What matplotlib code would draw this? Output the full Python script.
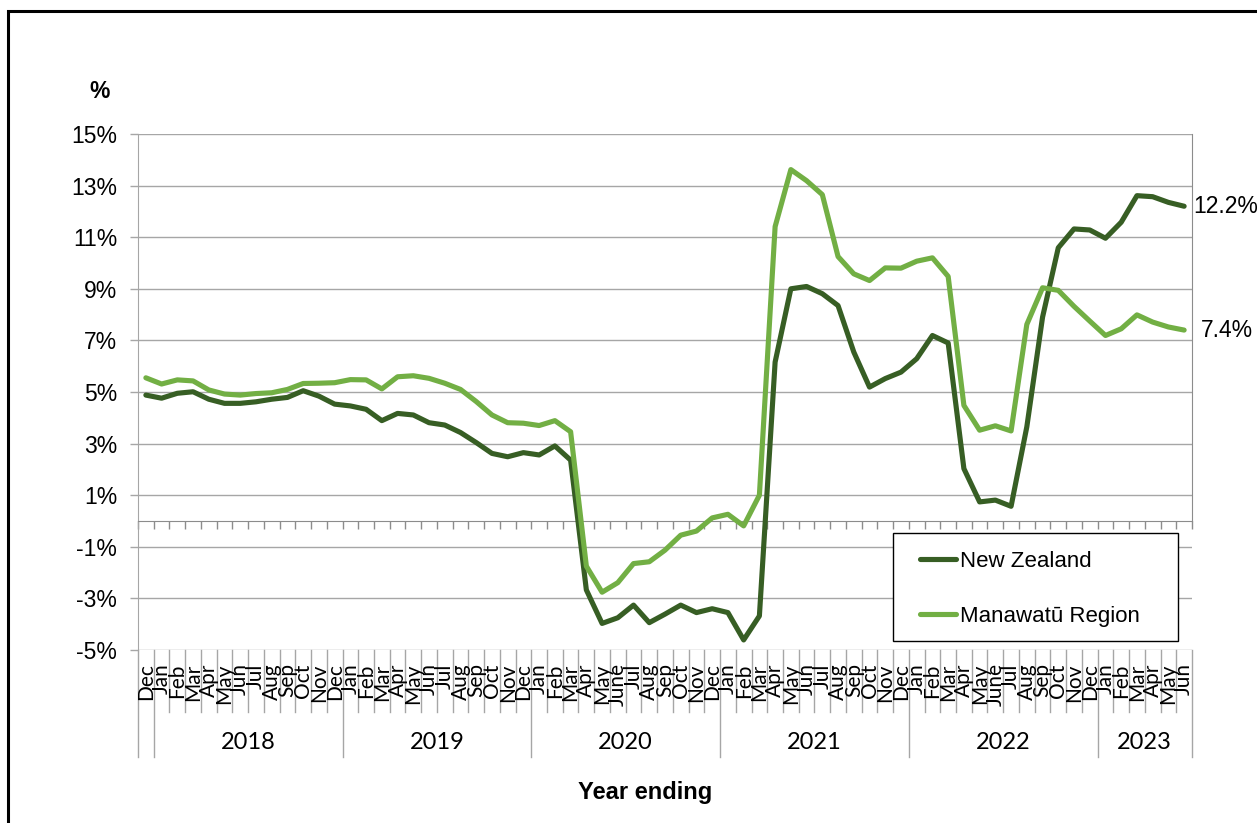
import matplotlib
matplotlib.use('Agg')
import matplotlib.pyplot as plt
import matplotlib.transforms as mtransforms
from matplotlib.patches import Rectangle
from matplotlib.lines import Line2D

plt.rcParams['font.family'] = ['Liberation Sans', 'DejaVu Sans']
plt.rcParams['axes.unicode_minus'] = False

# annual % change, year ending Dec 2017 .. Jun 2023
nz = [4.88, 4.76, 4.95, 5.01, 4.72, 4.56, 4.56, 4.62, 4.72, 4.79, 5.05, 4.84,
      4.53, 4.46, 4.33, 3.89, 4.17, 4.11, 3.81, 3.72, 3.43, 3.04, 2.62, 2.49,
      2.65, 2.56, 2.91, 2.36, -2.67, -3.97, -3.75, -3.26, -3.94, -3.61, -3.26, -3.55,
      -3.40, -3.55, -4.61, -3.68, 6.16, 9.00, 9.09, 8.81, 8.35, 6.55, 5.19, 5.52,
      5.77, 6.29, 7.19, 6.90, 2.03, 0.74, 0.81, 0.57, 3.65, 7.90, 10.59, 11.32,
      11.28, 10.96, 11.58, 12.61, 12.57, 12.35, 12.2]
manawatu = [5.55, 5.31, 5.47, 5.43, 5.08, 4.92, 4.88, 4.94, 4.97, 5.10, 5.33, 5.34,
            5.36, 5.48, 5.47, 5.12, 5.59, 5.63, 5.53, 5.34, 5.10, 4.63, 4.11, 3.81,
            3.79, 3.70, 3.89, 3.46, -1.75, -2.76, -2.39, -1.65, -1.58, -1.13, -0.55, -0.39,
            0.12, 0.26, -0.19, 1.00, 11.41, 13.62, 13.19, 12.65, 10.25, 9.58, 9.32, 9.81,
            9.80, 10.07, 10.20, 9.48, 4.48, 3.52, 3.69, 3.49, 7.62, 9.04, 8.94, 8.32,
            7.75, 7.19, 7.45, 7.99, 7.71, 7.52, 7.4]

months_2017 = ['Dec']
months_2018 = ['Jan', 'Feb', 'Mar', 'Apr', 'May', 'Jun', 'Jul', 'Aug', 'Sep', 'Oct', 'Nov', 'Dec']
months_2019 = ['Jan', 'Feb', 'Mar', 'Apr', 'May', 'Jun', 'Jul', 'Aug', 'Sep', 'Oct', 'Nov', 'Dec']
months_2020 = ['Jan', 'Feb', 'Mar', 'Apr', 'May', 'June', 'Jul', 'Aug', 'Sep', 'Oct', 'Nov', 'Dec']
months_2021 = ['Jan', 'Feb', 'Mar', 'Apr', 'May', 'Jun', 'Jul', 'Aug', 'Sep', 'Oct', 'Nov', 'Dec']
months_2022 = ['Jan', 'Feb', 'Mar', 'Apr', 'May', 'June', 'Jul', 'Aug', 'Sep', 'Oct', 'Nov', 'Dec']
months_2023 = ['Jan', 'Feb', 'Mar', 'Apr', 'May', 'Jun']
year_groups = [('', months_2017), ('2018', months_2018), ('2019', months_2019),
               ('2020', months_2020), ('2021', months_2021), ('2022', months_2022),
               ('2023', months_2023)]

month_labels = [m for _, ms in year_groups for m in ms]
x = list(range(len(month_labels)))

DARK = '#375E24'
LIGHT = '#72AF44'
GRID = '#A6A6A6'

W, H = 1257, 823
fig = plt.figure(figsize=(W / 100, H / 100), dpi=100)
ax = fig.add_axes([138 / W, (H - 650) / H, (1192 - 138) / W, 516 / H])

ax.plot(x, nz, color=DARK, lw=3.7, solid_joinstyle='round', solid_capstyle='round', zorder=3)
ax.plot(x, manawatu, color=LIGHT, lw=3.7, solid_joinstyle='round', solid_capstyle='round', zorder=3)

ax.set_xlim(-0.5, len(x) - 0.5)
ax.set_ylim(-5, 15)
yt = list(range(-5, 16, 2))
ax.set_yticks(yt)
ax.set_yticklabels([f'{v}%' for v in yt], fontsize=16.5)
ax.yaxis.grid(True, color=GRID, lw=1.0)
ax.set_axisbelow(True)
ax.tick_params(axis='y', length=5.5, width=1, color=GRID, pad=9.5)

# category axis sits at zero with ticks between months
ax.spines['bottom'].set_position(('data', 0))
ax.spines['bottom'].set_color('#8C8C8C')
ax.set_xticks([i - 0.5 for i in range(len(x) + 1)])
ax.tick_params(axis='x', direction='out', length=6, width=1, color='#8C8C8C', labelbottom=False)
ax.spines['top'].set_visible(False)
ax.spines['left'].set_color(GRID)
ax.spines['right'].set_color('#8C8C8C')
ax.spines['right'].set_bounds(0, 15)

# month / year labels below the plot
trans = mtransforms.blended_transform_factory(ax.transData, ax.transAxes)
for i, lab in enumerate(month_labels):
    ax.text(i, -0.026, lab, transform=trans, rotation=90, ha='center', va='top',
            fontsize=15, family='Lato')

start = 0
for year, ms in year_groups:
    end = start + len(ms)
    ax.plot([start - 0.5, start - 0.5], [0, -0.207], transform=trans, color=GRID,
            lw=1, clip_on=False)
    for b in range(start + 1, end):
        ax.plot([b - 0.5, b - 0.5], [0, -0.12], transform=trans, color=GRID,
                lw=1, clip_on=False)
    if year:
        ax.text((start + end - 1) / 2, -0.18, year, transform=trans, ha='center',
                va='center', fontsize=17, family='Lato')
    start = end
ax.plot([start - 0.5, start - 0.5], [0, -0.207], transform=trans, color=GRID,
        lw=1, clip_on=False)

# end-of-series labels
ax.annotate(f'{nz[-1]}%', xy=(x[-1], nz[-1]), xytext=(6.5, 0), textcoords='offset points',
            ha='left', va='center', fontsize=16.5, annotation_clip=False)
ax.annotate(f'{manawatu[-1]}%', xy=(x[-1], manawatu[-1]), xytext=(12, 0), textcoords='offset points',
            ha='left', va='center', fontsize=16.5, annotation_clip=False)

# legend with a square white box
ax.add_patch(Rectangle((893 / W, 1 - 641 / H), (1178 - 893) / W, (641 - 533) / H,
                       transform=fig.transFigure, facecolor='white', edgecolor='black',
                       lw=1.0, clip_on=False, zorder=4))
handles = [Line2D([], [], color=DARK, lw=3.7, solid_capstyle='round'),
           Line2D([], [], color=LIGHT, lw=3.7, solid_capstyle='round')]
leg = ax.legend(handles, ['New Zealand', 'Manawatū Region'], loc='center left',
                bbox_to_anchor=(920 / W, 1 - 589 / H), bbox_transform=fig.transFigure,
                frameon=False, fontsize=16, handlelength=1.6, handletextpad=0.2,
                labelspacing=1.52, borderpad=0, borderaxespad=0)
leg.set_zorder(5)

fig.text(100 / W, 1 - 92 / H, '%', ha='center', va='center', fontsize=16.5, fontweight='bold')
fig.text(645 / W, 1 - 792 / H, 'Year ending', ha='center', va='center', fontsize=17,
         fontweight='bold')

# outer frame
fig.add_artist(Rectangle((7.5 / W, -0.05), 1.1, 1 - 11 / H + 0.05, transform=fig.transFigure,
                         fill=False, edgecolor='black', lw=2.2))

fig.savefig('out.png', dpi=100)
